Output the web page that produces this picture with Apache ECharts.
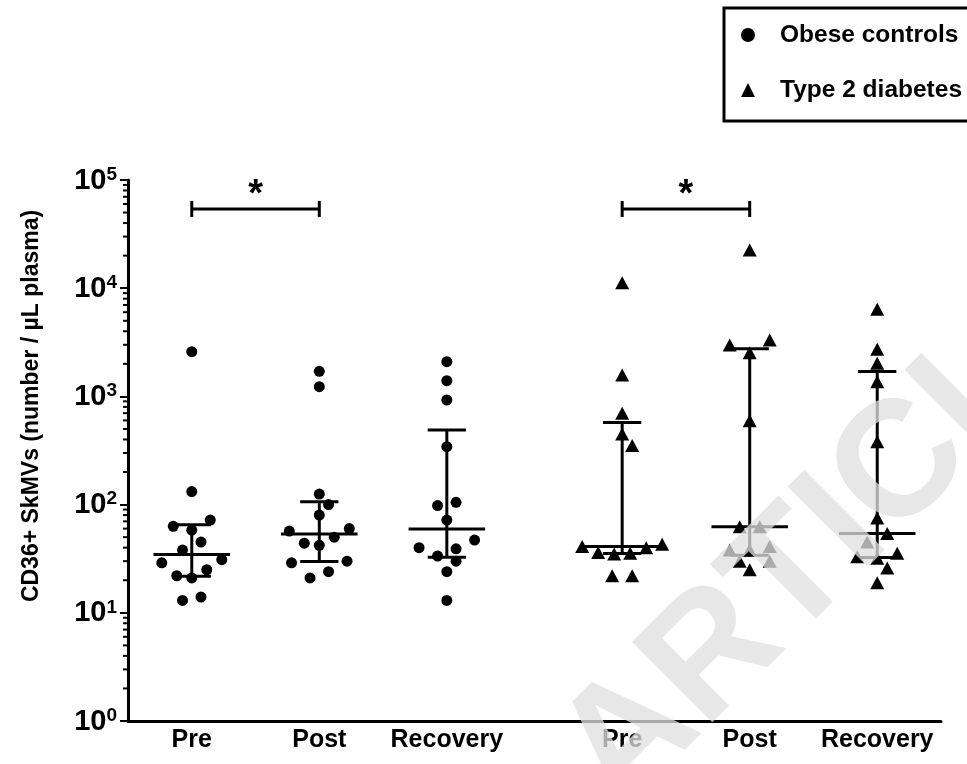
<!DOCTYPE html>
<html><head><meta charset="utf-8">
<script src="https://cdn.jsdelivr.net/npm/echarts@6/dist/echarts.min.js"></script>
<style>html,body{margin:0;padding:0;background:#fff}#c{width:967px;height:764px}</style>
</head><body><div id="c"></div>
<script>
// ---- data ----
const timepoints = ['Pre', 'Post', 'Recovery'];
const groups = ['Obese controls', 'Type 2 diabetes'];
const obesePre      = [2590, 132, 63, 72, 58, 45, 38, 29, 31, 25, 22, 21, 13, 14];
const obesePost     = [1706, 1230, 125, 100, 80, 57, 60, 44, 42, 50, 29, 30, 21, 24];
const obeseRecovery = [2093, 1397, 926, 343, 98, 105, 72, 47, 39, 40, 33.5, 30, 24, 13];
const t2dPre        = [11250, 1577, 698, 449, 351, 43, 41, 40, 35, 36, 35.5, 22, 22];
const t2dPost       = [22550, 3320, 2985, 2535, 596, 62.5, 62.5, 38, 41, 38, 30, 30, 25];
const t2dRecovery   = [6380, 2724, 2024, 1367, 381, 75, 54, 45, 35.5, 33, 32, 26, 19];
const yTickExponents = [0, 1, 2, 3, 4, 5];
const sigPairs = [[0, 0, 1, '*'], [1, 0, 1, '*']]; // group, from timepoint, to timepoint, label
const sigLevel = 54000;

const groupData = [[obesePre, obesePost, obeseRecovery], [t2dPre, t2dPost, t2dRecovery]];
const FONT = "'Liberation Sans', Arial, Helvetica, sans-serif";
const GROUP_SHIFT = 3.375;
function xPos(g, t) { return t + 0.5 + g * GROUP_SHIFT; }

function quantile(sorted, p) {
  const n = sorted.length, pos = (n + 1) * p, lo = Math.floor(pos), f = pos - lo;
  if (lo < 1) return sorted[0];
  if (lo >= n) return sorted[n - 1];
  return sorted[lo - 1] + f * (sorted[lo] - sorted[lo - 1]);
}

const summary = [];
groupData.forEach((arr, g) => arr.forEach((vals, t) => {
  const s = vals.slice().sort((a, b) => a - b);
  summary.push([xPos(g, t), quantile(s, 0.5), quantile(s, 0.25), quantile(s, 0.75)]);
}));

const minorTickData = [];
for (let e = yTickExponents[0]; e < yTickExponents[yTickExponents.length - 1]; e++)
  for (let m = 2; m <= 9; m++) minorTickData.push([0, m * Math.pow(10, e)]);

const labelFor = v => {
  for (let g = 0; g < 2; g++) for (let t = 0; t < 3; t++)
    if (Math.abs(xPos(g, t) - v) < 1e-6) return timepoints[t];
  return '';
};

const chart = echarts.init(document.getElementById('c'), null, { renderer: 'canvas' });

function baseOption(obesePts, t2dPts) {
  return {
    animation: false,
    backgroundColor: '#fff',
    grid: { left: 128, right: 26, top: 180, bottom: 43, containLabel: false },
    legend: {
      data: groups, orient: 'vertical', left: 724, top: 8,
      itemWidth: 14, itemHeight: 14, itemGap: 29,
      padding: [14, 40, 18, 17],
      borderColor: '#000', borderWidth: 3, selectedMode: false,
      textStyle: { fontSize: 24.5, fontWeight: 'bold', fontFamily: FONT, color: '#000', lineHeight: 26, padding: [0, 0, 0, 20] }
    },
    xAxis: {
      type: 'value', min: 0, max: 6.375, interval: 0.125,
      axisLine: { lineStyle: { color: '#000', width: 3 } },
      axisTick: { show: false }, splitLine: { show: false },
      axisLabel: { formatter: labelFor, margin: 7, fontSize: 25, fontWeight: 'bold', fontFamily: FONT, color: '#000', showMinLabel: true, showMaxLabel: true, hideOverlap: false }
    },
    yAxis: {
      type: 'log', logBase: 10, min: Math.pow(10, yTickExponents[0]), max: Math.pow(10, yTickExponents[yTickExponents.length - 1]),
      axisLine: { show: true, lineStyle: { color: '#000', width: 3 } },
      axisTick: { show: true, length: 8, lineStyle: { color: '#000', width: 2 } },
      splitLine: { show: false },
      axisLabel: {
        margin: 11,
        formatter: v => '{b|10}{s|' + Math.round(Math.log10(v)) + '}',
        rich: {
          b: { fontSize: 29, fontWeight: 'bold', fontFamily: FONT, color: '#000', lineHeight: 30, verticalAlign: 'bottom' },
          s: { fontSize: 19, fontWeight: 'bold', fontFamily: FONT, color: '#000', lineHeight: 14, verticalAlign: 'top' }
        }
      }
    },
    graphic: [
      { type: 'text', x: 32, y: 406, rotation: Math.PI / 2, z: 50,
        style: { text: 'CD36+ SkMVs (number / µL plasma)', fontSize: 23, fontWeight: 'bold', fontFamily: FONT, fill: '#000', align: 'center', verticalAlign: 'middle' } },
      { type: 'text', x: 588, y: 782, rotation: Math.PI / 4, z: 200, silent: true,
        style: { text: 'ARTICLE IN PRESS', fontSize: 165, fontWeight: 'bold', fontFamily: FONT, fill: 'rgba(224,224,224,0.76)', align: 'left', verticalAlign: 'middle' } }
    ],
    series: [
      { name: groups[0], type: 'scatter', symbol: 'circle', symbolSize: 11, itemStyle: { color: '#000', opacity: 1 }, data: obesePts, z: 3 },
      { name: groups[1], type: 'scatter', symbol: 'triangle', symbolSize: [14, 13], itemStyle: { color: '#000', opacity: 1 }, data: t2dPts, z: 3 },
      { name: 'summary', type: 'custom', z: 4, clip: false, data: summary,
        renderItem: (params, api) => {
          const x = api.value(0);
          const med = api.coord([x, api.value(1)]), q1 = api.coord([x, api.value(2)]), q3 = api.coord([x, api.value(3)]);
          const mL = api.coord([x - 0.3, api.value(1)]), mR = api.coord([x + 0.3, api.value(1)]);
          const qL = api.coord([x - 0.15, api.value(2)]), qR = api.coord([x + 0.15, api.value(2)]);
          const st = { stroke: '#000', lineWidth: 3 };
          return { type: 'group', children: [
            { type: 'line', shape: { x1: med[0], y1: q1[1], x2: med[0], y2: q3[1] }, style: st },
            { type: 'line', shape: { x1: mL[0], y1: med[1], x2: mR[0], y2: med[1] }, style: st },
            { type: 'line', shape: { x1: qL[0], y1: q1[1], x2: qR[0], y2: q1[1] }, style: st },
            { type: 'line', shape: { x1: qL[0], y1: q3[1], x2: qR[0], y2: q3[1] }, style: st }
          ] };
        } },
      { name: 'minor', type: 'custom', z: 5, clip: false, data: minorTickData,
        renderItem: (params, api) => {
          const p = api.coord([api.value(0), api.value(1)]);
          return { type: 'line', shape: { x1: p[0] - 5, y1: p[1], x2: p[0], y2: p[1] }, style: { stroke: '#000', lineWidth: 2 } };
        } },
      { name: 'sig', type: 'custom', z: 5, clip: false,
        data: sigPairs.map(s => [xPos(s[0], s[1]), xPos(s[0], s[2]), sigLevel]),
        encode: { x: [0, 1], y: 2 },
        renderItem: (params, api) => {
          const a = api.coord([api.value(0), api.value(2)]), b = api.coord([api.value(1), api.value(2)]);
          const st = { stroke: '#000', lineWidth: 3 };
          return { type: 'group', children: [
            { type: 'line', shape: { x1: a[0], y1: a[1], x2: b[0], y2: b[1] }, style: st },
            { type: 'line', shape: { x1: a[0], y1: a[1] - 8, x2: a[0], y2: a[1] + 8 }, style: st },
            { type: 'line', shape: { x1: b[0], y1: b[1] - 8, x2: b[0], y2: b[1] + 8 }, style: st },
            { type: 'text', x: (a[0] + b[0]) / 2, y: a[1] - 13,
              style: { text: sigPairs[params.dataIndex][3], fontSize: 38, fontWeight: 'bold', fontFamily: FONT, fill: '#000', align: 'center', verticalAlign: 'middle' } }
          ] };
        } }
    ]
  };
}

chart.setOption(baseOption([], []));

// column-scatter offsets: points with close values are spread in symmetric rows (pixel space from the chart's scales)
function swarm(g, diam, step, maxSpan) {
  const out = [];
  const unit = chart.convertToPixel({ gridIndex: 0 }, [1, 1])[0] - chart.convertToPixel({ gridIndex: 0 }, [0, 1])[0];
  groupData[g].forEach((vals, t) => {
    const xc = xPos(g, t);
    const pts = vals.map(v => ({ v, py: chart.convertToPixel({ gridIndex: 0 }, [xc, v])[1] }));
    pts.sort((a, b) => a.py - b.py);
    const rows = [];
    pts.forEach(p => {
      const row = rows[rows.length - 1];
      if (!row || p.py - row[row.length - 1].py > 9.5 || p.py - row[0].py > 19) rows.push([p]);
      else row.push(p);
    });
    const placed = [];
    rows.forEach(row => {
      const n = row.length;
      const s = n > 1 ? Math.min(step, maxSpan / (n - 1)) : 0;
      const slots = [];
      for (let i = 0; i < n; i++) slots.push((i - (n - 1) / 2) * s);
      slots.sort((a, b) => (Math.abs(b) - Math.abs(a)) || (b - a));
      row.forEach((p, i) => {
        let c = slots[i];
        const free = cc => placed.every(q => (cc - q.dx) ** 2 + (p.py - q.py) ** 2 >= diam * diam);
        if (!free(c)) {
          for (let k = 1; k <= 6; k++) {
            if (free(c + k * step / 2)) { c = c + k * step / 2; break; }
            if (free(c - k * step / 2)) { c = c - k * step / 2; break; }
          }
        }
        placed.push({ dx: c, py: p.py });
        out.push([xc + c / unit, p.v]);
      });
    });
  });
  return out;
}

chart.setOption(baseOption(swarm(0, 11, 18.5, 60), swarm(1, 13, 20, 80)));
</script>
</body></html>
